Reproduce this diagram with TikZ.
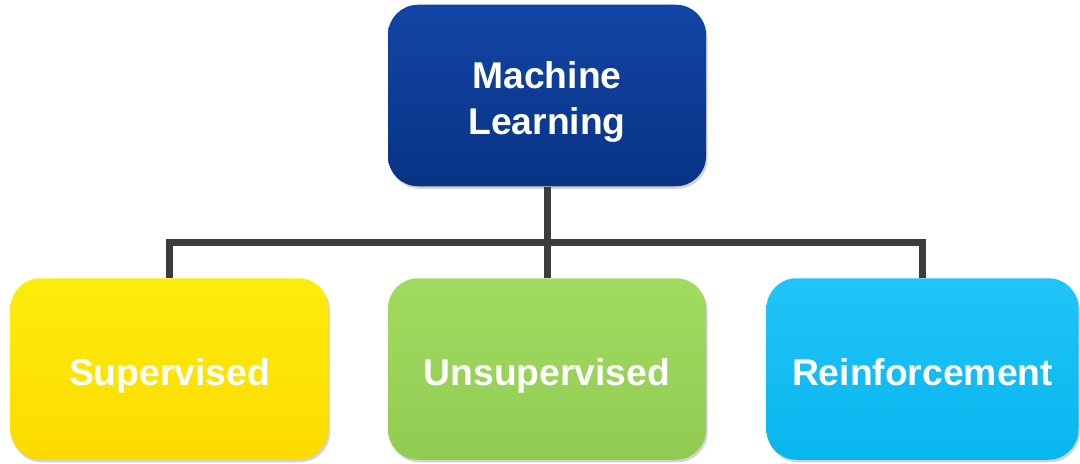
\documentclass[tikz,border=0pt]{standalone}
\usepackage{fontspec}
\setmainfont{Liberation Sans}
\usepackage{tikz}
\usetikzlibrary{shadows}
\usepackage{xcolor}

\definecolor{mlblue}{HTML}{0A3FA2}
\definecolor{supyellow}{HTML}{FDEB00}
\definecolor{unsgreen}{HTML}{9CDA58}
\definecolor{rlcyan}{HTML}{08BEF8}
\definecolor{linkgray}{HTML}{3C3C3C}

\tikzset{
  box/.style={rounded corners=0.6cm, minimum width=6.36cm, minimum height=3.63cm,
    align=center, text=white, font=\fontsize{21.2}{26}\selectfont\bfseries,
    text height=19pt, text depth=0pt,
    drop shadow={opacity=0.35, shadow xshift=0.03cm, shadow yshift=-0.05cm}},
  link/.style={draw=linkgray, line width=0.14cm, line join=miter}
}

\begin{document}
\begin{tikzpicture}
\useasboundingbox (0,0) rectangle (21.6,9.26);
% Root
\node[box, text height=45pt, text depth=1pt, top color=mlblue!97!white, bottom color=mlblue!82!black] (ml) at (10.94,7.35) {Machine\\Learning};

% Three kinds of learning
\node[box, top color=supyellow!95!white, bottom color=supyellow!85!orange] (sup) at (3.39,1.88) {Supervised};
\node[box, top color=unsgreen!95!white, bottom color=unsgreen!93!black] (unsup) at (10.94,1.88) {Unsupervised};
\node[box, minimum width=6.24cm, top color=rlcyan!90!white, bottom color=rlcyan!96!black] (rl) at (18.45,1.88) {Reinforcement};

% Tree connectors
\coordinate (bus) at (10.94,4.42);
\draw[link] (ml.south) -- (unsup.north);
\draw[link] (sup.north) |- (bus) -| (rl.north);
\end{tikzpicture}
\end{document}
